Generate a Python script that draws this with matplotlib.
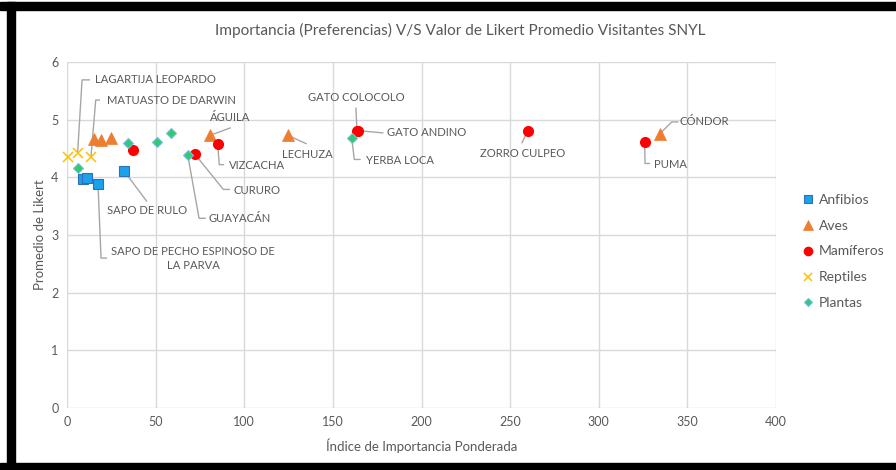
import matplotlib
matplotlib.use("Agg")
import matplotlib.pyplot as plt
from matplotlib.patches import Rectangle

plt.rcParams['font.family'] = ['Lato', 'DejaVu Sans']

# ---- data ----
anfibios_x = [9.0, 11.3, 17.5, 32.2]
anfibios_y = [3.97, 3.99, 3.88, 4.11]
aves_x = [15.4, 19.0, 24.8, 80.9, 124.5, 334.6]
aves_y = [4.66, 4.65, 4.68, 4.73, 4.73, 4.76]
mamif_x = [37.0, 72.2, 85.0, 163.6, 164.2, 259.9, 325.9]
mamif_y = [4.47, 4.40, 4.58, 4.80, 4.81, 4.80, 4.61]
rept_x = [0.7, 6.0, 13.5]
rept_y = [4.35, 4.43, 4.35]
plant_x = [6.0, 34.2, 51.0, 58.7, 68.1, 160.6]
plant_y = [4.17, 4.59, 4.62, 4.77, 4.39, 4.69]

series_names = ["Anfibios", "Aves", "Mamíferos", "Reptiles", "Plantas"]
x_ticks = [0, 50, 100, 150, 200, 250, 300, 350, 400]
y_ticks = [0, 1, 2, 3, 4, 5, 6]

title = "Importancia (Preferencias) V/S Valor de Likert Promedio Visitantes SNYL"
xlabel = "Índice de Importancia Ponderada"
ylabel = "Promedio de Likert"

# labels: (text, series, index, text pos, ha, elbow or None, line end)
SER = {"anf": (anfibios_x, anfibios_y), "ave": (aves_x, aves_y),
       "mam": (mamif_x, mamif_y), "rep": (rept_x, rept_y), "pla": (plant_x, plant_y)}
labels = [
    ("LAGARTIJA LEOPARDO", "rep", 1, (15.8, 5.69), "left", (8.5, 5.69), (13.0, 5.69)),
    ("MATUASTO DE DARWIN", "rep", 2, (22.6, 5.34), "left", (16.2, 5.34), (18.6, 5.34)),
    ("SAPO DE RULO", "anf", 3, (45.1, 3.42), "center", None, (45.1, 3.58)),
    ("SAPO DE PECHO ESPINOSO DE\nLA PARVA", "anf", 2, (71.1, 2.59), "center", (19.2, 2.60), (22.6, 2.60)),
    ("GUAYACÁN", "pla", 4, (80.1, 3.29), "left", (74.5, 3.29), (78.3, 3.29)),
    ("CURURO", "mam", 1, (93.8, 3.78), "left", (88.2, 3.79), (91.9, 3.79)),
    ("VIZCACHA", "mam", 2, (91.6, 4.21), "left", (85.9, 4.22), (88.6, 4.22)),
    ("ÁGUILA", "ave", 3, (80.7, 5.04), "left", None, (92.4, 4.86)),
    ("LECHUZA", "ave", 4, (135.5, 4.40), "center", None, (135.2, 4.58)),
    ("GATO COLOCOLO", "mam", 3, (163.2, 5.39), "center", None, (163.0, 5.21)),
    ("GATO ANDINO", "mam", 4, (180.7, 4.77), "left", None, (178.5, 4.77)),
    ("YERBA LOCA", "pla", 5, (168.7, 4.30), "left", (162.1, 4.31), (165.7, 4.31)),
    ("ZORRO CULPEO", "mam", 5, (256.8, 4.42), "center", None, (256.5, 4.59)),
    ("PUMA", "mam", 6, (331.2, 4.23), "left", (326.1, 4.24), (328.9, 4.24)),
    ("CÓNDOR", "ave", 5, (345.8, 4.96), "left", (341.2, 4.96), (344.9, 4.96)),
]

W, H = 896, 470
fig = plt.figure(figsize=(W / 100, H / 100), dpi=100)
fig.patch.set_facecolor("white")

# black frame (top, left, bottom)
fig.add_artist(Rectangle((0, 1 - 10 / H), 1, 8 / H, transform=fig.transFigure, color="black", zorder=10))
fig.add_artist(Rectangle((7 / W, 0), 8 / W, 1 - 2 / H, transform=fig.transFigure, color="black", zorder=10))
fig.add_artist(Rectangle((0, 0), 1, 7 / H, transform=fig.transFigure, color="black", zorder=10))

ax = fig.add_axes([67 / W, (H - 408) / H, (776 - 67) / W, (408 - 62) / H])
ax.set_xlim(0, 400)
ax.set_ylim(0, 6)
ax.set_xticks(x_ticks)
ax.set_yticks(y_ticks)
ax.grid(True, color="#D9D9D9", linewidth=1.0)
ax.set_axisbelow(True)
for s in ax.spines.values():
    s.set_visible(False)
ax.tick_params(length=0, colors="#595959", labelsize=9, pad=6)

gray = "#595959"
fig.text(460 / W, 1 - 30 / H, title, color=gray, fontsize=11.1, ha="center", va="center")
ax.set_xlabel(xlabel, color=gray, fontsize=9.5, labelpad=7)
ax.set_ylabel(ylabel, color=gray, fontsize=9.5, labelpad=4)

ax.plot(anfibios_x, anfibios_y, ls="none", marker="s", ms=7.5, mfc="#1AA3EA", mec="#2F6FB8", mew=0.8, label=series_names[0], zorder=3)
ax.plot(aves_x, aves_y, ls="none", marker="^", ms=8, mfc="#ED7D31", mec="#ED7D31", mew=0.5, label=series_names[1], zorder=3)
ax.plot(mamif_x, mamif_y, ls="none", marker="o", ms=7, mfc="#FF0000", mec="#FF0000", label=series_names[2], zorder=3)
ax.plot(rept_x, rept_y, ls="none", marker="x", ms=7, mec="#FFC000", mew=1.1, label=series_names[3], zorder=3, clip_on=False)
ax.plot(plant_x, plant_y, ls="none", marker="D", ms=5, mfc="#2ECC71", mec="#7FB8E6", mew=0.8, label=series_names[4], zorder=3)

lc = "#A6A6A6"
for text, key, idx, tpos, ha, elbow, lend in labels:
    xs, ys = SER[key]
    idx = min(idx, len(xs) - 1)
    px, py = xs[idx], ys[idx]
    path_x = [px] + ([elbow[0]] if elbow else []) + [lend[0]]
    path_y = [py] + ([elbow[1]] if elbow else []) + [lend[1]]
    ax.plot(path_x, path_y, color=lc, lw=1.0, zorder=2, solid_capstyle="butt")
    ax.text(tpos[0], tpos[1], text, ha=ha, va="center", fontsize=8.1, color=gray,
            multialignment="center", linespacing=1.4, zorder=4)

leg = fig.legend(loc="center left", bbox_to_anchor=(795 / W, 1 - 251.5 / H), frameon=False,
                 fontsize=10, labelcolor=gray, handlelength=0.8, handletextpad=0.4,
                 labelspacing=1.0, borderpad=0)
for h in leg.legend_handles:
    try:
        h.set_markersize(h.get_markersize() * 0.85)
    except Exception:
        pass

fig.savefig("out.png", dpi=100)
